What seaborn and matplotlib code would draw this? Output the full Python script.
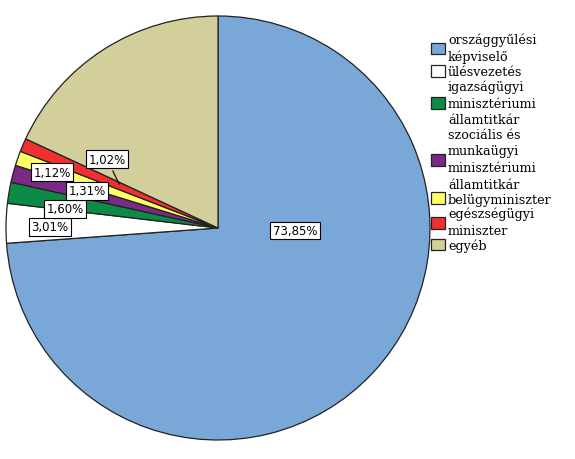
import numpy as np
import matplotlib
matplotlib.use("Agg")
import matplotlib.pyplot as plt
import seaborn as sns

sns.set_theme(style="white")
plt.rcParams['font.family'] = ['DejaVu Sans']
plt.rcParams['text.color'] = 'black'

# adatok
categories = ["országgyűlési\nképviselő", "ülésvezetés", "igazságügyi\nminisztériumi\nállamtitkár",
              "szociális és\nmunkaügyi\nminisztériumi\nállamtitkár", "belügyminiszter",
              "egészségügyi\nminiszter", "egyéb"]
shares = [73.85, 3.01, 1.60, 1.31, 1.12, 1.02, 18.09]
show_label = [True, True, True, True, True, True, False]
colors = ["#79a8d8", "#ffffff", "#0e8a47", "#7a2a85", "#ffff66", "#ee3030", "#d3cf9b"]

# cimkek helye (pie egysegben)
label_pos = [(0.363, -0.012), (-0.792, 0.005), (-0.722, 0.090), (-0.618, 0.175),
             (-0.783, 0.264), (-0.524, 0.325), None]

fig = plt.figure(figsize=(5.75, 4.6), dpi=100)
ax = fig.add_axes([6/575, (460-229-212)/460, 424/575, 424/460])

wedges, _ = ax.pie(shares, colors=colors, startangle=90, counterclock=False,
                   wedgeprops=dict(edgecolor="#222222", linewidth=0.9))
ax.set_aspect("equal")
ax.set_xlim(-1, 1)
ax.set_ylim(-1, 1)
ax.axis("off")

box = dict(boxstyle="square,pad=0.2", fc="white", ec="black", lw=0.8)
for i, w in enumerate(wedges):
    if not show_label[i]:
        continue
    txt = f"{shares[i]:.2f}%".replace(".", ",")
    lx, ly = label_pos[i]
    if i == 5:
        mid = np.deg2rad((w.theta1 + w.theta2) / 2)
        ax.annotate(txt, xy=(0.5 * np.cos(mid), 0.5 * np.sin(mid)), xytext=(lx, ly),
                    ha="center", va="center", fontsize=8.5, bbox=box,
                    arrowprops=dict(arrowstyle="-", color="black", lw=0.8))
    else:
        ax.text(lx, ly, txt, ha="center", va="center", fontsize=8.5, bbox=box)

leg = fig.legend(wedges, categories, loc="upper left", bbox_to_anchor=(425/575, 1 - 27/460),
                 frameon=False, borderpad=0, handlelength=1.05, handleheight=1.05,
                 handletextpad=0.25, labelspacing=0.1,
                 prop=dict(family="DejaVu Serif", size=9.2))
for t in leg.get_texts():
    t.set_color("black")
    t.set_linespacing(1.38)

fig.savefig("out.png", dpi=100)
